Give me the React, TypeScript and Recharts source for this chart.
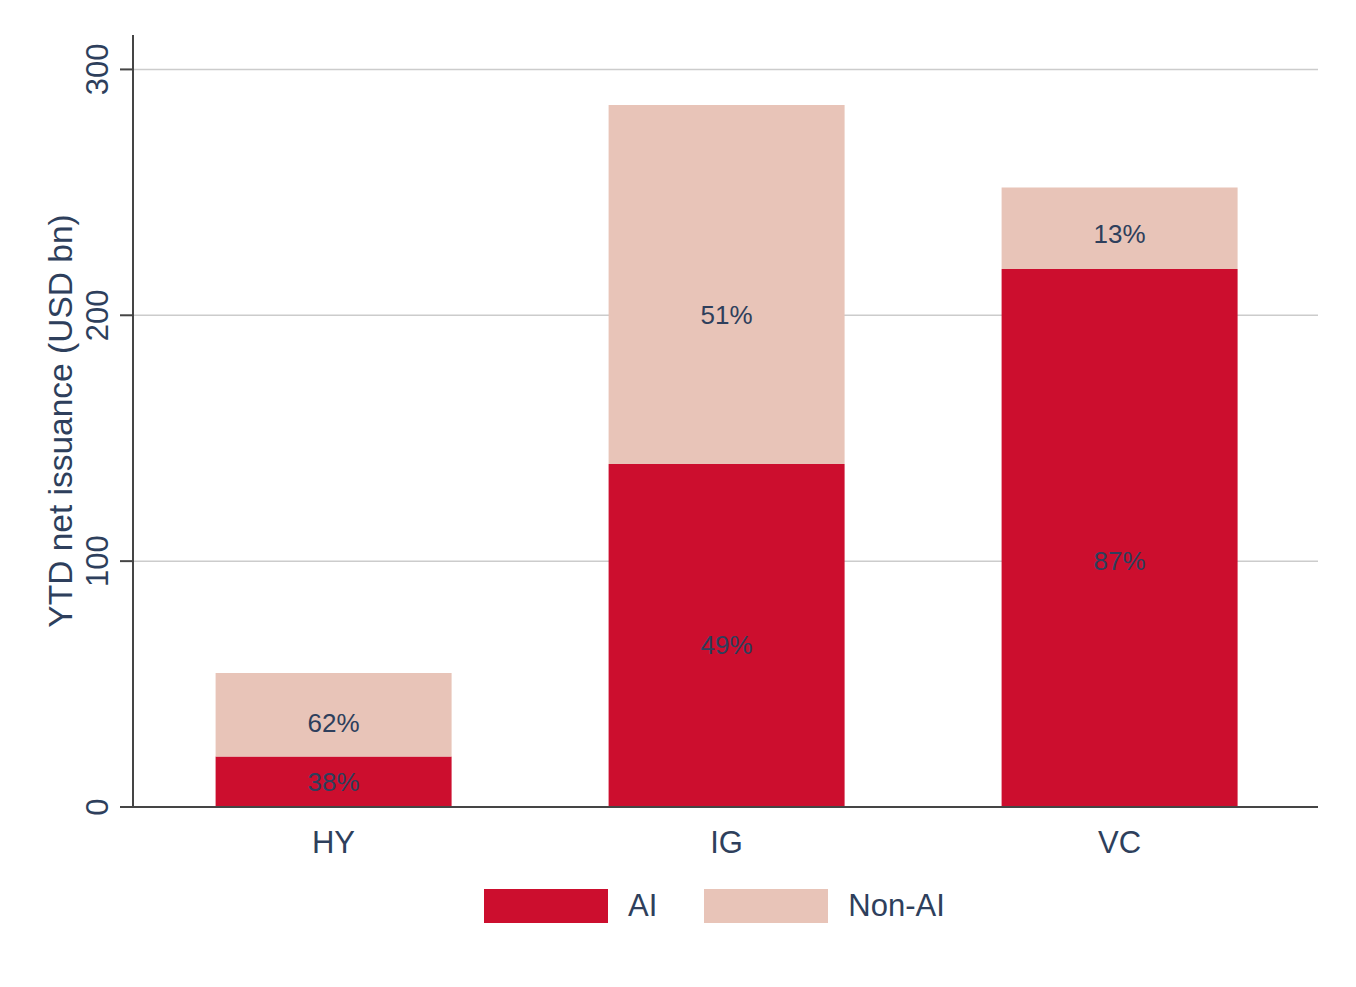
import React from "react";
import {
  Bar,
  CartesianGrid,
  ComposedChart,
  LabelList,
  Legend,
  Line,
  XAxis,
  YAxis
} from "recharts";

const categories = ["HY", "IG", "VC"];
const aiValues = [20.5, 139.5, 218.8];
const nonAiValues = [34, 146, 33.2];
// where the share labels sit, in USD bn
const aiLabelAt = [10, 66, 100];
const nonAiLabelAt = [34, 200, 233];
const yTicks = [0, 100, 200, 300];

const RED = "#cc0e2e";
const PINK = "#e8c4b8";
const INK = "#2e3f5c";
const AXIS = "#454545";
const FONT = "'Liberation Sans', Arial, Helvetica, sans-serif";

const data = categories.map((name, i) => {
  const total = aiValues[i] + nonAiValues[i];
  return {
    name,
    ai: aiValues[i],
    nonAi: nonAiValues[i],
    aiAt: aiLabelAt[i],
    nonAiAt: nonAiLabelAt[i],
    aiText: `${Math.round((aiValues[i] / total) * 100)}%`,
    nonAiText: `${Math.round((nonAiValues[i] / total) * 100)}%`
  };
});

function YTick({ x, y, payload }: any) {
  return (
    <text
      transform={`translate(${x - 10},${y}) rotate(-90)`}
      textAnchor="middle"
      fontSize={31}
      fontFamily={FONT}
      fill={INK}
    >
      {payload.value}
    </text>
  );
}

function ShareLabel({ x, y, value }: any) {
  return (
    <text
      x={x}
      y={y}
      textAnchor="middle"
      dominantBaseline="central"
      fontSize={26}
      fontFamily={FONT}
      fill={INK}
    >
      {value}
    </text>
  );
}

function LegendBox({ payload }: any) {
  const items = (payload || []).filter((p: any) => p.type !== "none");
  return (
    <div
      style={{
        height: 50,
        display: "flex",
        alignItems: "center",
        paddingLeft: 484,
        fontFamily: FONT
      }}
    >
      {items.map((item: any) => (
        <div key={item.value} style={{ display: "flex", alignItems: "center", marginRight: 47 }}>
          <div style={{ width: 124, height: 34, background: item.color, marginRight: 20 }} />
          <span style={{ fontSize: 31, color: INK }}>{item.value}</span>
        </div>
      ))}
    </div>
  );
}

export default function App() {
  return (
    <div style={{ position: "absolute", left: 0, top: 0, background: "#fff" }}>
      <ComposedChart
        width={1356}
        height={987}
        data={data}
        margin={{ top: 35, right: 38, bottom: 56, left: 0 }}
        barCategoryGap="20%"
      >
        <CartesianGrid
          vertical={false}
          stroke="#cccccc"
          strokeWidth={1.5}
          horizontalValues={yTicks}
        />
        <XAxis
          dataKey="name"
          height={74}
          padding={{ left: 4, right: 2 }}
          tickLine={false}
          tickSize={0}
          tickMargin={24}
          axisLine={{ stroke: AXIS, strokeWidth: 2 }}
          tick={{ fontSize: 31, fontFamily: FONT, fill: INK }}
        />
        <YAxis
          width={133}
          domain={[0, 314]}
          ticks={yTicks}
          interval={0}
          tickSize={13}
          tickMargin={2}
          axisLine={{ stroke: AXIS, strokeWidth: 2 }}
          tickLine={{ stroke: AXIS, strokeWidth: 2 }}
          tick={<YTick />}
          label={{
            value: "YTD net issuance (USD bn)",
            angle: -90,
            position: "insideLeft",
            offset: 60,
            style: { textAnchor: "middle", fontSize: 33.5, fontFamily: FONT, fill: INK }
          }}
        />
        <Legend verticalAlign="bottom" content={<LegendBox />} wrapperStyle={{ left: 0, width: 1356 }} />
        <Bar dataKey="ai" name="AI" stackId="s" fill={RED} isAnimationActive={false} />
        <Bar dataKey="nonAi" name="Non-AI" stackId="s" fill={PINK} isAnimationActive={false} />
        <Line
          dataKey="aiAt"
          stroke="none"
          dot={false}
          activeDot={false}
          legendType="none"
          isAnimationActive={false}
        >
          <LabelList dataKey="aiText" content={<ShareLabel />} />
        </Line>
        <Line
          dataKey="nonAiAt"
          stroke="none"
          dot={false}
          activeDot={false}
          legendType="none"
          isAnimationActive={false}
        >
          <LabelList dataKey="nonAiText" content={<ShareLabel />} />
        </Line>
      </ComposedChart>
    </div>
  );
}
